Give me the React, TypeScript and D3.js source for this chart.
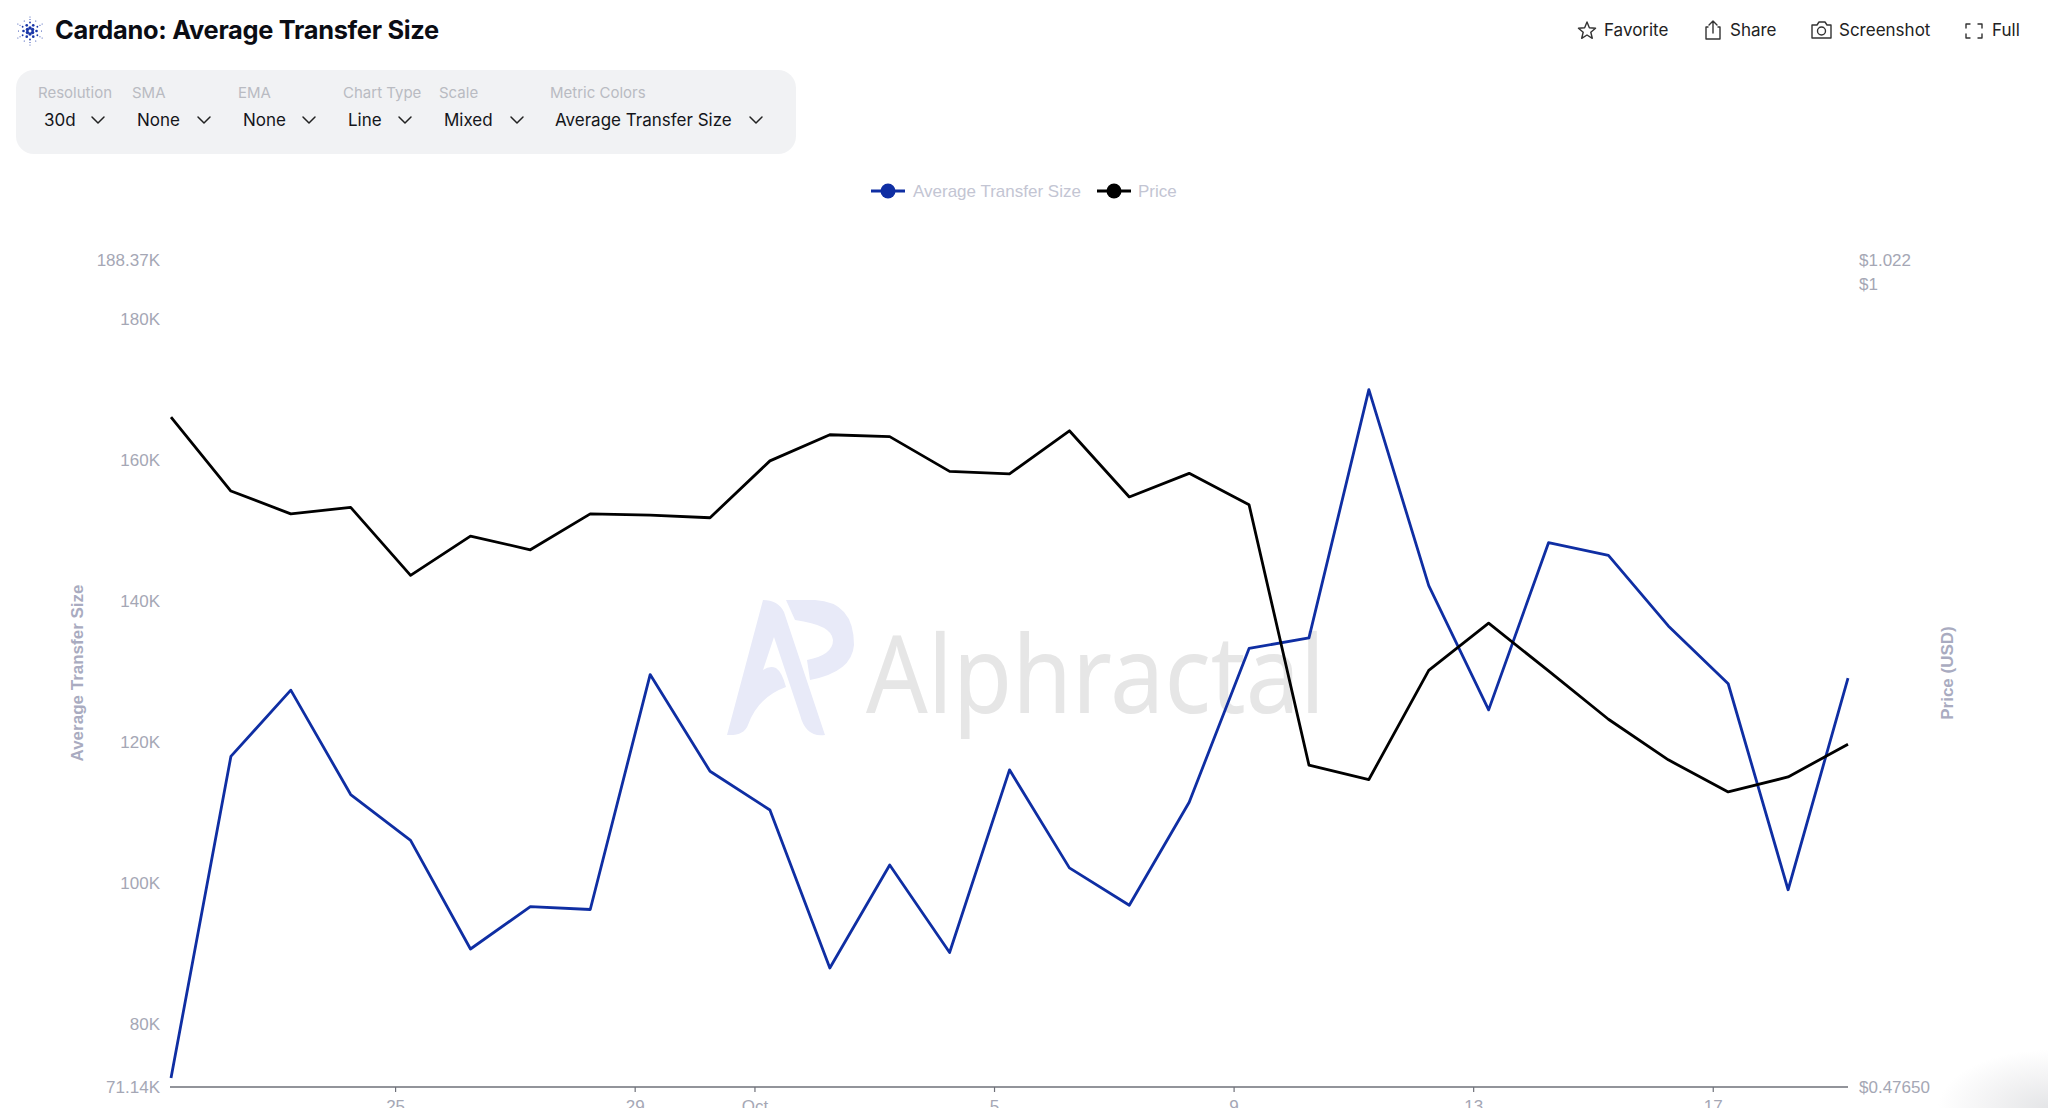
import React from "react";
import * as d3 from "d3";

const transferSize = [72400,118000,127400,112600,106100,90700,96700,96300,129600,115900,110400,88000,102600,90200,116100,102200,96900,111500,133300,134800,170000,142200,124600,148300,146500,136500,128300,99100,129100];
const price = [0.8841,0.8258,0.8086,0.8134,0.7640,0.7922,0.7822,0.8086,0.8076,0.8057,0.8491,0.8698,0.8683,0.8409,0.8389,0.8730,0.8213,0.8394,0.8154,0.6413,0.6328,0.6999,0.7310,0.6995,0.6690,0.6444,0.6256,0.6343,0.6538];
const leftTicks = [[71140,"71.14K"],[80000,"80K"],[100000,"100K"],[120000,"120K"],[140000,"140K"],[160000,"160K"],[180000,"180K"],[188370,"188.37K"]] as [number,string][];
const rightTicks = [[0.4765,"$0.47650"],[1,"$1"],[1.022,"$1.022"]] as [number,string][];
const dateTicks = [[2025,8,25,"25"],[2025,8,29,"29"],[2025,9,1,"Oct"],[2025,9,5,"5"],[2025,9,9,"9"],[2025,9,13,"13"],[2025,9,17,"17"]] as [number,number,number,string][];
const controls = [
  ["Resolution","30d"],["SMA","None"],["EMA","None"],["Chart Type","Line"],["Scale","Mixed"],["Metric Colors","Average Transfer Size"],
];
const controlLabelX = [38,132,238,343,439,550];
const controlValueX = [44,137,243,348,444,555];
const controlChevronX = [98,204,309,405,517,756];

const dates = transferSize.map((_, i) => new Date(Date.UTC(2025, 8, 21 + i, 6)));
const FONT = "Inter, sans-serif";
const HELV = "'Liberation Sans', Arial, sans-serif";
const BLUE = "#0f2ea3";
const x = d3.scaleTime().domain([dates[0], dates[dates.length - 1]]).range([171, 1848]);
const yL = d3.scaleLinear().domain([71140, 188370]).range([1087, 260]);
const yR = d3.scaleLog().domain([0.4765, 1.022]).range([1087, 260]);
const lineL = d3.line<number>().x((_, i) => x(dates[i])).y((d) => yL(d));
const lineR = d3.line<number>().x((_, i) => x(dates[i])).y((d) => yR(d));

function Chevron({ cx, cy }: { cx: number; cy: number }) {
  return <path d={`M${cx - 6} ${cy - 3}L${cx} ${cy + 3}L${cx + 6} ${cy - 3}`} fill="none" stroke="#222" strokeWidth={1.5} strokeLinecap="round" strokeLinejoin="round" />;
}

function CardanoIcon({ cx, cy }: { cx: number; cy: number }) {
  const rings = [[3, 6, 1.7], [6.5, 6, 1.3], [8.5, 6, 0.9], [11.5, 12, 0.55], [14, 6, 0.5]];
  const dots: React.ReactNode[] = [];
  rings.forEach(([r, n, s], ri) => {
    for (let i = 0; i < n; i++) {
      const a = (i / n) * 2 * Math.PI + (ri % 2 ? Math.PI / 6 : 0) - Math.PI / 2;
      dots.push(<circle key={`${ri}-${i}`} cx={cx + r * Math.cos(a)} cy={cy + r * Math.sin(a)} r={s} fill="#1a37a8" />);
    }
  });
  return <g>{dots}</g>;
}

const stroke = { fill: "none", stroke: "#333", strokeWidth: 1.4, strokeLinejoin: "round", strokeLinecap: "round" } as const;

export default function App() {
  return (
    <svg width={2048} height={1108} viewBox="0 0 2048 1108" style={{ position: "fixed", left: 0, top: 0, background: "#fff", fontFamily: FONT }}>
      <defs>
        <radialGradient id="corner" cx="1" cy="1" r="1">
          <stop offset="0" stopColor="#e4e5e7" />
          <stop offset="0.5" stopColor="#f2f2f3" />
          <stop offset="1" stopColor="#ffffff" />
        </radialGradient>
      </defs>
      <rect x={1938} y={1050} width={110} height={58} fill="url(#corner)" />

      <CardanoIcon cx={30} cy={31} />
      <text x={55} y={39} fontSize={25.4} fontWeight={700} fill="#0b0d14" letterSpacing={-0.3}>Cardano: Average Transfer Size</text>

      {/* header actions */}
      <g fontSize={17} fill="#222">
        <path d={d3.range(10).map((i) => { const r = i % 2 ? 4 : 9; const a = -Math.PI / 2 + (i * Math.PI) / 5; return `${i ? "L" : "M"}${1587 + r * Math.cos(a)} ${31 + r * Math.sin(a)}`; }).join("") + "Z"} {...stroke} />
        <text x={1604} y={36}>Favorite</text>
        <path d="M1708 27H1706V39H1720V27H1718M1713 33V21M1709 25L1713 21L1717 25" {...stroke} />
        <text x={1730} y={36}>Share</text>
        <path d="M1812 25H1817L1819 22H1825L1827 25H1831V38H1812Z" {...stroke} />
        <circle cx={1821.5} cy={31} r={4} {...stroke} />
        <text x={1839} y={36}>Screenshot</text>
        <path d="M1966 28V24H1970M1978 24H1982V28M1982 34V38H1978M1970 38H1966V34" {...stroke} />
        <text x={1992} y={36}>Full</text>
      </g>

      {/* controls */}
      <rect x={16} y={70} width={780} height={84} rx={18} fill="#f1f2f4" />
      {controls.map(([label, value], i) => (
        <g key={label}>
          <text x={controlLabelX[i]} y={98} fontSize={15} fill="#b9bbc2">{label}</text>
          <text x={controlValueX[i]} y={126} fontSize={17} fontWeight={400} fill="#14151a">{value}</text>
          <Chevron cx={controlChevronX[i]} cy={120} />
        </g>
      ))}

      {/* legend */}
      <g fontSize={17} fontFamily={HELV} fill="#c3c5d3">
        <line x1={871} x2={905} y1={191} y2={191} stroke={BLUE} strokeWidth={3} />
        <circle cx={888} cy={191} r={7.5} fill={BLUE} />
        <text x={913} y={197}>Average Transfer Size</text>
        <line x1={1097} x2={1131} y1={191} y2={191} stroke="#000" strokeWidth={3} />
        <circle cx={1114} cy={191} r={7.5} fill="#000" />
        <text x={1138} y={197}>Price</text>
      </g>

      {/* watermark */}
      <g>
        <path d="M763 600Q778 600 784 612L825 735Q806 738 800 715L774 637L763 670Q770 665 776 668Q782 672 786 687Q758 697 748 725Q744 736 727 735Z" fill="#e8eaf8" />
        <path d="M786 600H815Q854 602 854 645Q852 672 810 680L807 660Q833 655 833 640Q832 625 795 620Z" fill="#e8eaf8" />
        <text x={866} y={713} fontSize={108} fontFamily="'Noto Sans', sans-serif" fontWeight={400} fill="#e6e6e6" textLength={459} lengthAdjust="spacingAndGlyphs">Alphractal</text>
      </g>

      {/* axes */}
      <line x1={170} x2={1848} y1={1087} y2={1087} stroke="#6e7079" strokeWidth={1.5} />
      {dateTicks.map(([yy, m, d, label]) => {
        const px = x(new Date(Date.UTC(yy, m, d)));
        return (
          <g key={label}>
            <line x1={px} x2={px} y1={1087} y2={1092} stroke="#6e7079" strokeWidth={1.2} />
            <text x={px} y={1112} textAnchor="middle" fontSize={17} fontFamily={HELV} fill="#a5a7b5">{label}</text>
          </g>
        );
      })}
      {leftTicks.map(([v, label]) => (
        <text key={label} x={160} y={yL(v) + 6} textAnchor="end" fontSize={17} fontFamily={HELV} fill="#a5a7b5">{label}</text>
      ))}
      {rightTicks.map(([v, label]) => (
        <text key={label} x={1859} y={yR(v) + 6} fontSize={17} fontFamily={HELV} fill="#a5a7b5">{label}</text>
      ))}
      <text transform="translate(83 673) rotate(-90)" textAnchor="middle" fontSize={17} fontWeight={700} fontFamily={HELV} fill="#a9abc0">Average Transfer Size</text>
      <text transform="translate(1953 673) rotate(-90)" textAnchor="middle" fontSize={17} fontWeight={700} fontFamily={HELV} fill="#a9abc0">Price (USD)</text>

      {/* series */}
      <path d={lineL(transferSize) ?? ""} fill="none" stroke={BLUE} strokeWidth={2.8} strokeLinejoin="round" />
      <path d={lineR(price) ?? ""} fill="none" stroke="#000" strokeWidth={2.8} strokeLinejoin="round" />
    </svg>
  );
}
